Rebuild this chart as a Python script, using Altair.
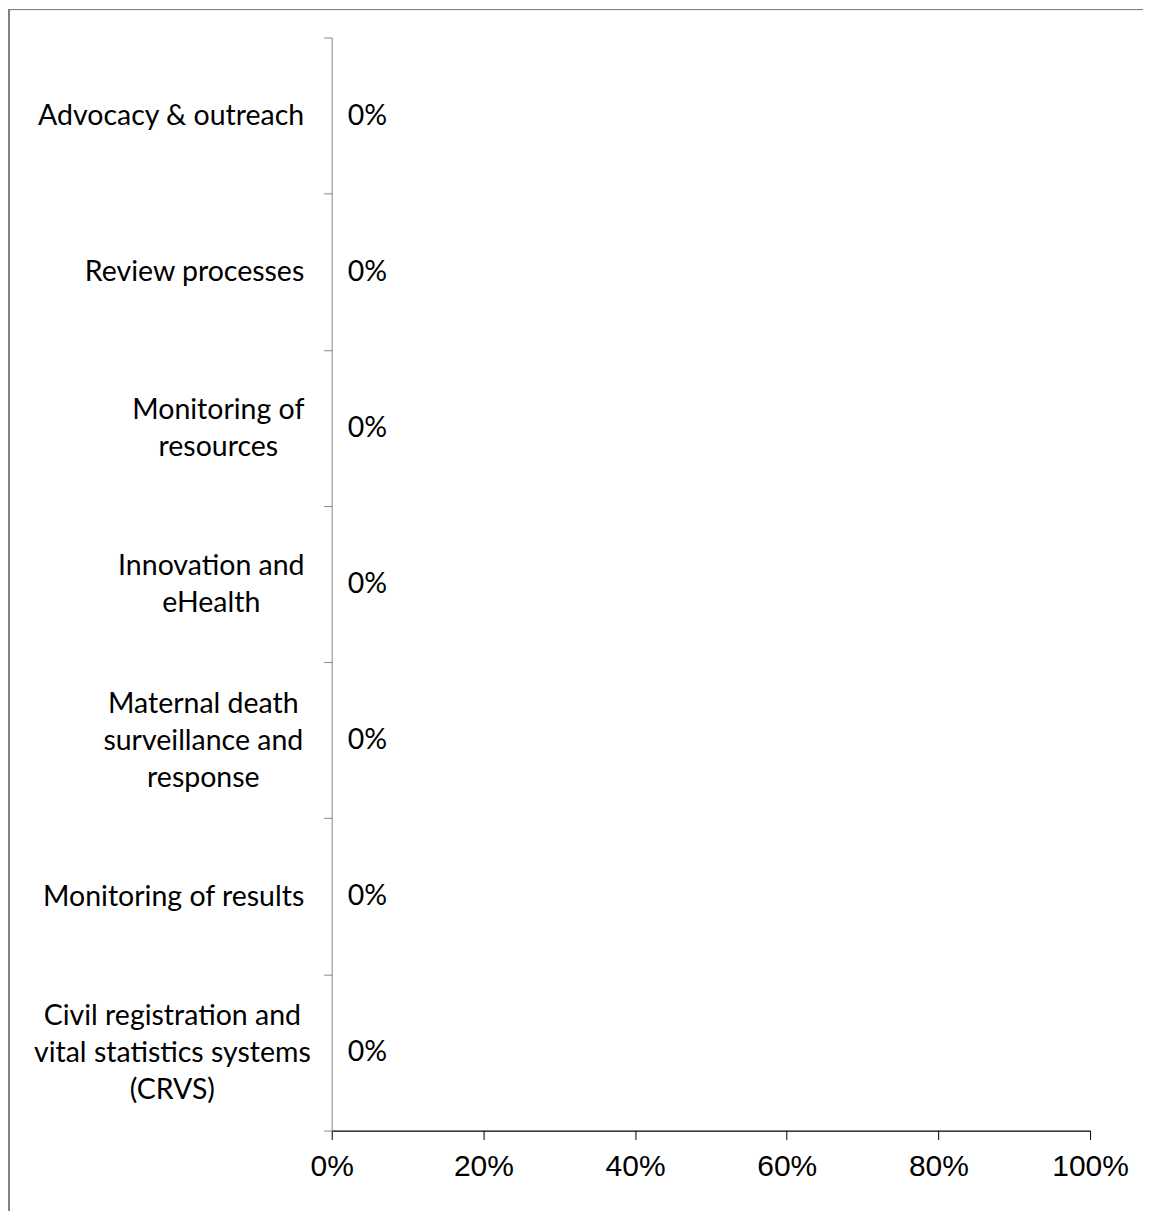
import altair as alt
import pandas as pd

categories = [
    "Advocacy & outreach",
    "Review processes",
    "Monitoring of|resources",
    "Innovation and|eHealth",
    "Maternal death|surveillance and|response",
    "Monitoring of results",
    "Civil registration and|vital statistics systems|(CRVS)",
]
values = [0, 0, 0, 0, 0, 0, 0]
x_ticks = [0, 0.2, 0.4, 0.6, 0.8, 1.0]

df = pd.DataFrame({"category": categories, "value": values})

LABEL_FONT = "Lato"
LABEL_SIZE = 28.5
LINE_H = 37

# per-label padding so multi-line labels are centred like the original
pad_map = {
    "Monitoring of|resources": 106,
    "Innovation and|eHealth": 113,
    "Maternal death|surveillance and|response": 121,
    "Civil registration and|vital statistics systems|(CRVS)": 152,
}
pad_expr = ""
align_expr = ""
for k, v in pad_map.items():
    pad_expr += f"datum.value == '{k}' ? {v} : "
    align_expr += f"datum.value == '{k}' ? 'center' : "
pad_expr += "20"
align_expr += "'right'"
offset_expr = f"-(length(split(datum.value, '|')) - 1) * {LINE_H / 2}"

base = alt.Chart(df)

y_enc = alt.Y(
    "category:N",
    sort=categories,
    title=None,
    scale=alt.Scale(paddingInner=0.0, paddingOuter=0.0),
    axis=alt.Axis(
        labelExpr="split(datum.label, '|')",
        labelFont=LABEL_FONT,
        labelFontSize=LABEL_SIZE,
        labelColor="black",
        labelLineHeight=LINE_H,
        labelLimit=400,
        labelAlign=alt.ExprRef(expr=align_expr),
        labelPadding=alt.ExprRef(expr=pad_expr),
        labelOffset=alt.ExprRef(expr=offset_expr),
        labelBaseline="middle",
        tickBand="extent",
        tickSize=8,
        tickColor="#868686",
        domainColor="#868686",
        domainWidth=1,
        grid=False,
    ),
)

x_enc = alt.X(
    "value:Q",
    title=None,
    scale=alt.Scale(domain=[0, 1], nice=False),
    axis=alt.Axis(
        values=x_ticks,
        format=".0%",
        labelFont="Liberation Sans",
        labelFontSize=30,
        labelColor="black",
        labelFlush=False,
        labelPadding=12,
        tickSize=9,
        tickColor="black",
        domainColor="black",
        domainWidth=1.2,
        grid=False,
    ),
)

bars = base.mark_bar(color="#4f81bd").encode(x=x_enc, y=y_enc)

texts = base.mark_text(
    align="left", baseline="middle", dx=16, font=LABEL_FONT, fontSize=LABEL_SIZE, color="black"
).encode(x=x_enc, y=y_enc, text=alt.Text("value:Q", format=".0%"))

frame_left = base.mark_rule(color="#7f7f7f", strokeWidth=1).encode(
    x=alt.value(-323), y=alt.value(-28), y2=alt.value(1174)
)
frame_top = base.mark_rule(color="#7f7f7f", strokeWidth=1).encode(
    x=alt.value(-323), x2=alt.value(812), y=alt.value(-28)
)

chart = (
    alt.layer(frame_left, frame_top, bars, texts)
    .properties(width=759, height=1094, padding=0, background="white")
    .configure_view(strokeWidth=0, stroke="transparent")
)

chart.save("out.html", embed_options={"renderer": "svg", "actions": False})
